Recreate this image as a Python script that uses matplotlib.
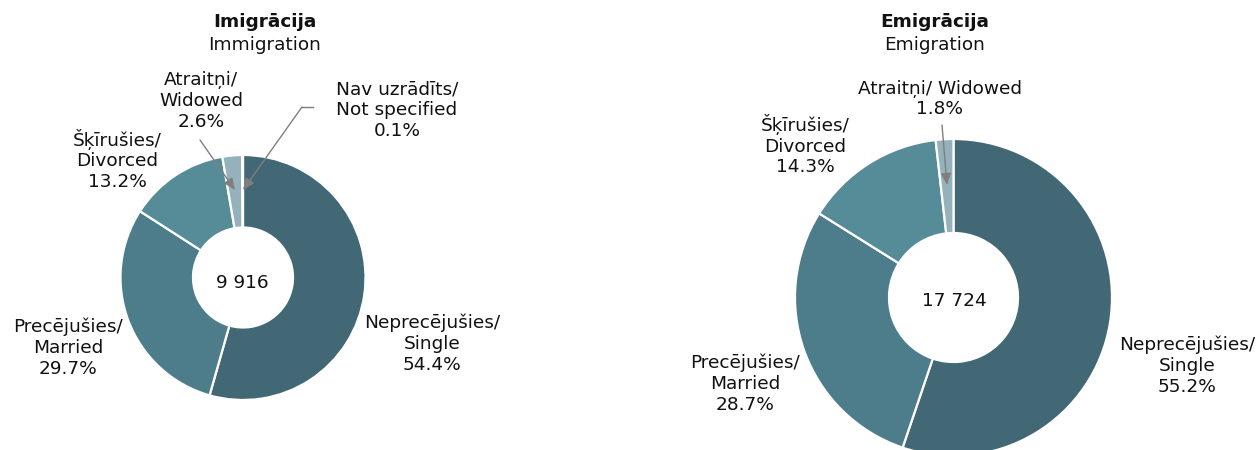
import matplotlib
matplotlib.use("Agg")
import matplotlib.pyplot as plt

plt.rcParams['font.family'] = ['DejaVu Sans']

# ---- data ----
categories_lv = ["Neprecējušies/", "Precējušies/", "Šķīrušies/", "Atraitņi/", "Nav uzrādīts/"]
categories_en = ["Single", "Married", "Divorced", "Widowed", "Not specified"]
immigration_pct = [54.4, 29.7, 13.2, 2.6, 0.1]
emigration_pct = [55.2, 28.7, 14.3, 1.8]
immigration_total = "9 916"
emigration_total = "17 724"
colors = ["#426875", "#4d7c8a", "#568b98", "#94b1bc", "#b8ccd3"]

W, H = 1258, 450
fig = plt.figure(figsize=(W / 100, H / 100), dpi=100)
ax = fig.add_axes([0, 0, 1, 1])

def Y(y):
    return H - y

def donut(values, cx, cy, r, rin):
    ax.pie(values, radius=r, center=(cx, Y(cy)), startangle=90, counterclock=False,
           colors=colors[:len(values)],
           wedgeprops=dict(width=r - rin, edgecolor="white", linewidth=1.6))

donut(immigration_pct, 243, 277.5, 122.5, 50)
donut(emigration_pct, 953.5, 297.5, 158.5, 64.5)

ax.set_xlim(0, W)
ax.set_ylim(0, H)
ax.set_aspect("auto")
ax.axis("off")

fs = 13.3
tc = "#111111"

def label(x, y, s, **kw):
    ax.text(x, Y(y), s, ha="center", va="center", fontsize=fs, color=tc,
            linespacing=1.2, **kw)

def lab(i, pct):
    return f"{categories_lv[i]}\n{categories_en[i]}\n{pct:.1f}%"

# titles
label(265, 22, "Imigrācija", fontweight="bold")
label(265, 45, "Immigration")
label(935, 22, "Emigrācija", fontweight="bold")
label(935, 45, "Emigration")

# immigration labels
label(432, 344, lab(0, immigration_pct[0]))
label(68, 348, lab(1, immigration_pct[1]))
label(117, 160, lab(2, immigration_pct[2]))
label(201, 101, lab(3, immigration_pct[3]))
label(397, 110, lab(4, immigration_pct[4]))
label(242, 283, immigration_total)

# emigration labels
label(1187, 366, lab(0, emigration_pct[0]))
label(745, 384, lab(1, emigration_pct[1]))
label(805, 145, lab(2, emigration_pct[2]))
label(940, 99, f"{categories_lv[3]} {categories_en[3]}\n{emigration_pct[3]:.1f}%")
label(954, 301, emigration_total)

# leader arrows
ac = "#7f7f7f"
aprops = dict(arrowstyle="-|>,head_length=0.7,head_width=0.3", color=ac, lw=1.0,
              shrinkA=0, shrinkB=0)
ax.annotate("", xy=(235, Y(190)), xytext=(200, Y(140)), arrowprops=aprops)
ax.plot([313, 302], [Y(107), Y(107)], color=ac, lw=1.0)
ax.annotate("", xy=(243, Y(190)), xytext=(302, Y(107)), arrowprops=aprops)
ax.annotate("", xy=(947, Y(185)), xytext=(942, Y(125)), arrowprops=aprops)

fig.savefig("out.png", dpi=100, facecolor="white")
